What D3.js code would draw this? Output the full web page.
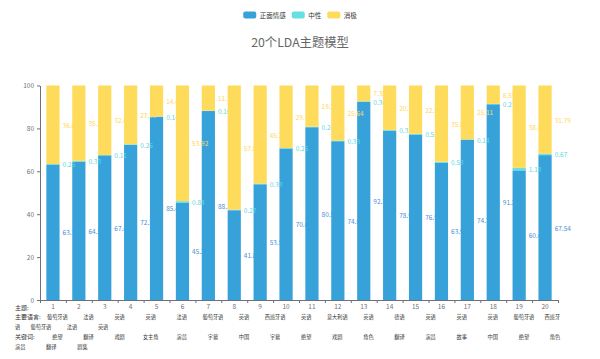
<!DOCTYPE html>
<html>
<head>
<meta charset="utf-8">
<script src="https://cdn.jsdelivr.net/npm/d3@7"></script>
<style>
  html, body { margin: 0; padding: 0; background: #fff; }
  svg { display: block; font-family: "Noto Sans CJK SC", "Noto Sans", sans-serif; }
</style>
</head>
<body>
<svg id="chart" width="600" height="359"></svg>
<script>
// ---------------- data ----------------
const titleText = "20个LDA主题模型";
const seriesNames = ["正面情感", "中性", "消极"];
const categories = ["1","2","3","4","5","6","7","8","9","10","11","12","13","14","15","16","17","18","19","20"];
const positive = [63.15, 64.52, 67.45, 72.35, 85.42, 45.24, 88.10, 41.85, 53.95, 70.62, 80.55, 74.03, 92.31, 78.93, 76.95, 63.94, 74.75, 91.24, 60.45, 67.54];
const neutral  = [0.25, 0.33, 0.11, 0.26, 0.14, 0.84, 0.16, 0.27, 0.33, 0.25, 0.24, 0.33, 0.34, 0.31, 0.52, 0.53, 0.14, 0.21, 1.13, 0.67];
const negative = [36.60, 35.15, 32.44, 27.39, 14.44, 53.92, 11.74, 57.88, 45.72, 29.13, 19.21, 25.64, 7.35, 20.76, 22.53, 35.53, 25.11, 8.55, 38.42, 31.79];
const yTicks = [0, 20, 40, 60, 80, 100];
const topicLabel = "主题:";
const langLabel = "主要语言:";
const languages = ["葡萄牙语","法语","英语","英语","法语","葡萄牙语","英语","西班牙语","英语","意大利语","英语","德语","英语","英语","英语","葡萄牙语","西班牙语","葡萄牙语","法语","英语"];
const kwLabel = "关键词:";
const keywords = ["绝望","翻译","戏剧","女主角","演员","字幕","中国","字幕","绝望","戏剧","角色","翻译","演员","故事","中国","绝望","角色","演员","翻译","剧集"];

// ---------------- styles ----------------
const colors = ["#37A2DA", "#67E0E3", "#FFDB5C"];
const labelColors = ["#4a8fd6", "#5fd6df", "#FFD75A"];
const axisColor = "#6E7079";

const svg = d3.select("#chart");
const margin = { left: 40, right: 42, top: 85.5, bottom: 59 };
const W = 600, H = 359;

const x = d3.scaleBand().domain(categories)
  .range([margin.left, W - margin.right])
  .paddingInner(0.49).paddingOuter(0.245);
const y = d3.scaleLinear().domain([0, 100]).range([H - margin.bottom, margin.top]);

// ---------------- title ----------------
svg.append("text")
  .attr("x", 300).attr("y", 42)
  .attr("text-anchor", "middle").attr("dominant-baseline", "central")
  .attr("font-size", 12.3).attr("fill", "#666")
  .text(titleText);

// ---------------- legend ----------------
const legendFS = 6.5, rectW = 13, rectH = 7.2, textGap = 3.5, itemGap = 6;
const lg = svg.append("g");
const tmp = lg.append("text").attr("font-size", legendFS);
const widths = seriesNames.map(n => { tmp.text(n); return tmp.node().getComputedTextLength(); });
tmp.remove();
const totalW = d3.sum(widths) + seriesNames.length * (rectW + textGap) + (seriesNames.length - 1) * itemGap;
let lx = 300 - totalW / 2;
seriesNames.forEach((n, i) => {
  lg.append("rect").attr("x", lx).attr("y", 15 - rectH / 2).attr("width", rectW).attr("height", rectH)
    .attr("rx", 2).attr("fill", colors[i]);
  lg.append("text").attr("x", lx + rectW + textGap).attr("y", 15)
    .attr("dominant-baseline", "central").attr("font-size", legendFS).attr("fill", "#333").text(n);
  lx += rectW + textGap + widths[i] + itemGap;
});

// ---------------- axes ----------------
const yAxis = svg.append("g").attr("transform", `translate(${margin.left},0)`)
  .call(d3.axisLeft(y).tickValues(yTicks).tickSize(3).tickPadding(3).tickSizeOuter(0));
yAxis.selectAll("path, line").attr("stroke", axisColor);
yAxis.selectAll("text").attr("font-size", 6.5).attr("fill", axisColor).attr("font-family", "Noto Sans CJK SC, sans-serif");

const xb = d3.scaleLinear().domain([0, categories.length]).range(x.range());
const xAxisTicks = svg.append("g").attr("transform", `translate(0,${y(0)})`)
  .call(d3.axisBottom(xb).tickValues(d3.range(categories.length + 1)).tickFormat("").tickSize(3).tickSizeOuter(0));
xAxisTicks.selectAll("path, line").attr("stroke", axisColor);

const xAxis = svg.append("g").attr("transform", `translate(0,${y(0)})`)
  .call(d3.axisBottom(x).tickSize(0).tickPadding(4.5));
xAxis.select("path").remove();
xAxis.selectAll("text").attr("font-size", 6.5).attr("fill", axisColor).attr("font-family", "Noto Sans CJK SC, sans-serif");

// ---------------- bars ----------------
const table = categories.map((c, i) => ({ cat: c, pos: positive[i], neu: neutral[i], neg: negative[i] }));
const stacked = d3.stack().keys(["pos", "neu", "neg"])(table);

stacked.forEach((s, k) => {
  const g = svg.append("g");
  const cells = g.selectAll("g").data(s).join("g");
  cells.append("rect")
    .attr("x", d => x(d.data.cat))
    .attr("y", d => y(d[1]))
    .attr("width", x.bandwidth())
    .attr("height", d => y(d[0]) - y(d[1]))
    .attr("fill", colors[k]);
  cells.append("text")
    .attr("x", d => x(d.data.cat) + x.bandwidth() + 3)
    .attr("y", d => (y(d[0]) + y(d[1])) / 2)
    .attr("dominant-baseline", "central")
    .attr("font-size", 6.5)
    .attr("fill", labelColors[k])
    .text(d => String(d.data[s.key]));
});

// ---------------- bottom text block ----------------
const FS = 5.2, X0 = 15, CELL0 = 47, PITCH = 31.1, LIMIT = 563, LINE0 = 307, LH = 9.75;
const cellW = 4 * FS, sep = PITCH - cellW;
const tg = svg.append("g").attr("font-size", FS).attr("fill", "#333");
const rowY = i => LINE0 + i * LH;
function emit(str, px, line) {
  tg.append("text").attr("x", px).attr("y", rowY(line)).attr("dominant-baseline", "central").text(str);
}
tg.append("text").attr("x", X0).attr("y", rowY(0)).attr("dominant-baseline", "central")
  .attr("font-size", 6).text(topicLabel);

function flow(prefix, items, line) {
  tg.append("text").attr("x", X0).attr("y", rowY(line)).attr("dominant-baseline", "central")
    .attr("font-size", 6).text(prefix);
  let cx = CELL0;
  items.forEach(item => {
    const chars = Array.from(item);
    const pad = (4 - chars.length) * FS / 2;
    let px = cx + pad, frag = "", fragX = px;
    chars.forEach(ch => {
      if (px + FS > LIMIT) {
        if (frag) emit(frag, fragX, line);
        line++; px = X0; frag = ""; fragX = px;
      }
      frag += ch; px += FS;
    });
    if (frag) emit(frag, fragX, line);
    cx = px + pad + sep;
  });
  return line + 1;
}
let nextLine = flow(langLabel, languages, 1);
flow(kwLabel, keywords, nextLine);
</script>
</body>
</html>
